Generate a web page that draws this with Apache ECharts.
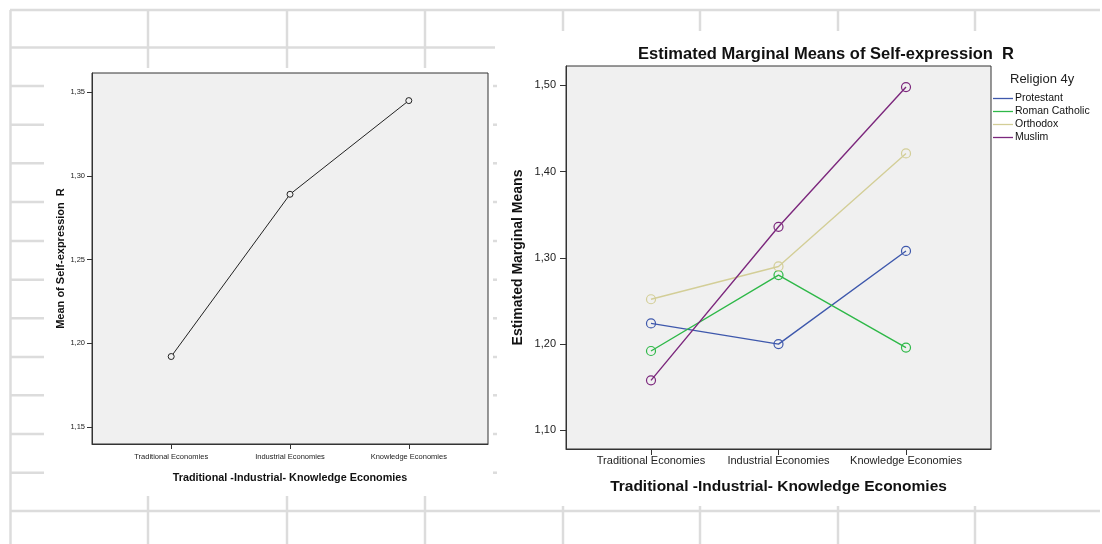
<!DOCTYPE html>
<html>
<head>
<meta charset="utf-8">
<script src="https://cdn.jsdelivr.net/npm/echarts@6/dist/echarts.min.js"></script>
<style>
html,body{margin:0;padding:0;background:#fff;}
#c{width:1102px;height:544px;}
</style>
</head>
<body>
<div id="c"></div>
<script>
// ---------- data ----------
const categories = ['Traditional Economies', 'Industrial Economies', 'Knowledge Economies'];
const overallMeans = [1.192, 1.289, 1.345];
const religions = ['Protestant', 'Roman Catholic', 'Orthodox', 'Muslim'];
const protestant = [1.224, 1.200, 1.308];
const romanCatholic = [1.192, 1.280, 1.196];
const orthodox = [1.252, 1.290, 1.421];
const muslim = [1.158, 1.336, 1.498];
const leftTicks = [1.15, 1.20, 1.25, 1.30, 1.35];
const rightTicks = [1.10, 1.20, 1.30, 1.40, 1.50];
const catTicks = [0, 1, 2];
const religionColors = ['#3E58AC', '#2EB848', '#D3CE97', '#7C287D'];

const seriesValues = [protestant, romanCatholic, orthodox, muslim];

const FONT = '"Liberation Sans", Arial, sans-serif';
const fmtY = v => v.toFixed(2).replace('.', ',');
const fmtX = v => categories[Math.round(v)];

// ---------- spreadsheet background lines ----------
const gl = [];
const G = '#dcdcdc';
function seg(x1, y1, x2, y2) {
  gl.push({type: 'line', silent: true, z: -10,
    shape: {x1: x1, y1: y1, x2: x2, y2: y2},
    style: {stroke: G, lineWidth: 2.5}});
}
seg(10, 10, 1100, 10);
seg(10, 47.5, 495, 47.5);
seg(10, 511, 1100, 511);
seg(10.5, 10, 10.5, 544);
[148, 287, 425].forEach(x => { seg(x, 10, x, 68); seg(x, 496, x, 544); });
[563, 700, 838, 975].forEach(x => { seg(x, 10, x, 31); seg(x, 506, x, 544); });
const rows = [86, 124.7, 163.3, 202, 241, 279.7, 318.3, 357, 395.3, 434, 472.7];
rows.forEach(y => { seg(10, y, 44, y); seg(493, y, 497, y); });

// legend title
gl.push({type: 'text', left: 1010, top: 73, z: 10,
  style: {text: 'Religion 4y', font: '13px ' + FONT, fill: '#222'}});

const chart = echarts.init(document.getElementById('c'), null, {renderer: 'canvas'});

function yAxisCfg(gridIndex, min, max, ticks, name, nameSize, nameGap, labelSize, tickLen, labelMargin) {
  return {
    type: 'value', gridIndex: gridIndex, min: min, max: max,
    name: name, nameLocation: 'middle', nameGap: nameGap,
    nameTextStyle: {fontFamily: FONT, fontWeight: 'bold', fontSize: nameSize, color: '#111'},
    axisLine: {show: true, onZero: false, lineStyle: {color: '#333', width: 1}},
    axisTick: {show: true, length: tickLen, customValues: ticks, lineStyle: {color: '#333'}},
    axisLabel: {customValues: ticks, formatter: fmtY, fontFamily: FONT, fontSize: labelSize, color: '#222', margin: labelMargin},
    splitLine: {show: false}
  };
}
function xAxisCfg(gridIndex, name, nameSize, nameGap, labelSize, tickLen, labelMargin) {
  return {
    type: 'value', gridIndex: gridIndex, min: -2 / 3, max: 8 / 3,
    name: name, nameLocation: 'middle', nameGap: nameGap,
    nameTextStyle: {fontFamily: FONT, fontWeight: 'bold', fontSize: nameSize, color: '#111'},
    axisLine: {show: true, onZero: false, lineStyle: {color: '#333', width: 1}},
    axisTick: {show: true, length: tickLen, customValues: catTicks, lineStyle: {color: '#333'}},
    axisLabel: {customValues: catTicks, formatter: fmtX, fontFamily: FONT, fontSize: labelSize, color: '#222', margin: labelMargin},
    splitLine: {show: false}
  };
}

const series = [{
  type: 'line', xAxisIndex: 0, yAxisIndex: 0,
  data: overallMeans.map((v, i) => [i, v]),
  symbol: 'circle', symbolSize: 6,
  lineStyle: {color: '#222', width: 1},
  itemStyle: {color: '#f0f0f0', borderColor: '#222', borderWidth: 1},
  emphasis: {disabled: true}, animation: false
}];
religions.forEach((r, k) => {
  series.push({
    name: r, type: 'line', xAxisIndex: 1, yAxisIndex: 1,
    data: seriesValues[k].map((v, i) => [i, v]),
    symbol: 'circle', symbolSize: 9,
    color: religionColors[k],
    lineStyle: {color: religionColors[k], width: 1.4},
    itemStyle: {color: 'rgba(240,240,240,0)', borderColor: religionColors[k], borderWidth: 1.2},
    emphasis: {disabled: true}, animation: false
  });
});

chart.setOption({
  animation: false,
  backgroundColor: '#fff',
  title: {
    text: 'Estimated Marginal Means of Self-expression  R',
    left: 821, top: 41, textAlign: 'center',
    textStyle: {fontFamily: FONT, fontWeight: 'bold', fontSize: 16.5, color: '#111'}
  },
  legend: {
    data: religions.map((r, k) => ({name: r, itemStyle: {color: religionColors[k], borderWidth: 0}})),
    orient: 'vertical', left: 993, top: 93, padding: 0,
    icon: 'rect', itemWidth: 20, itemHeight: 1.3, itemGap: 2,
    textStyle: {fontFamily: FONT, fontSize: 10.5, color: '#111', padding: [0, 0, 0, -3]},
    selectedMode: false
  },
  graphic: gl,
  grid: [
    {left: 92, top: 73, width: 396, height: 371, show: true, backgroundColor: '#f0f0f0', borderColor: '#333', borderWidth: 1},
    {left: 566, top: 66, width: 425, height: 383, show: true, backgroundColor: '#f0f0f0', borderColor: '#333', borderWidth: 1}
  ],
  xAxis: [
    xAxisCfg(0, 'Traditional -Industrial- Knowledge Economies', 10.8, 29, 7.5, 5, 9),
    xAxisCfg(1, 'Traditional -Industrial- Knowledge Economies', 15.5, 30, 11, 6, 6)
  ],
  yAxis: [
    yAxisCfg(0, 1.1397, 1.3615, leftTicks, 'Mean of Self-expression  R', 11, 26, 7.5, 5, 7),
    yAxisCfg(1, 1.0784, 1.5224, rightTicks, 'Estimated Marginal Means', 14, 41, 11, 6, 10)
  ],
  series: series
});
</script>
</body>
</html>
